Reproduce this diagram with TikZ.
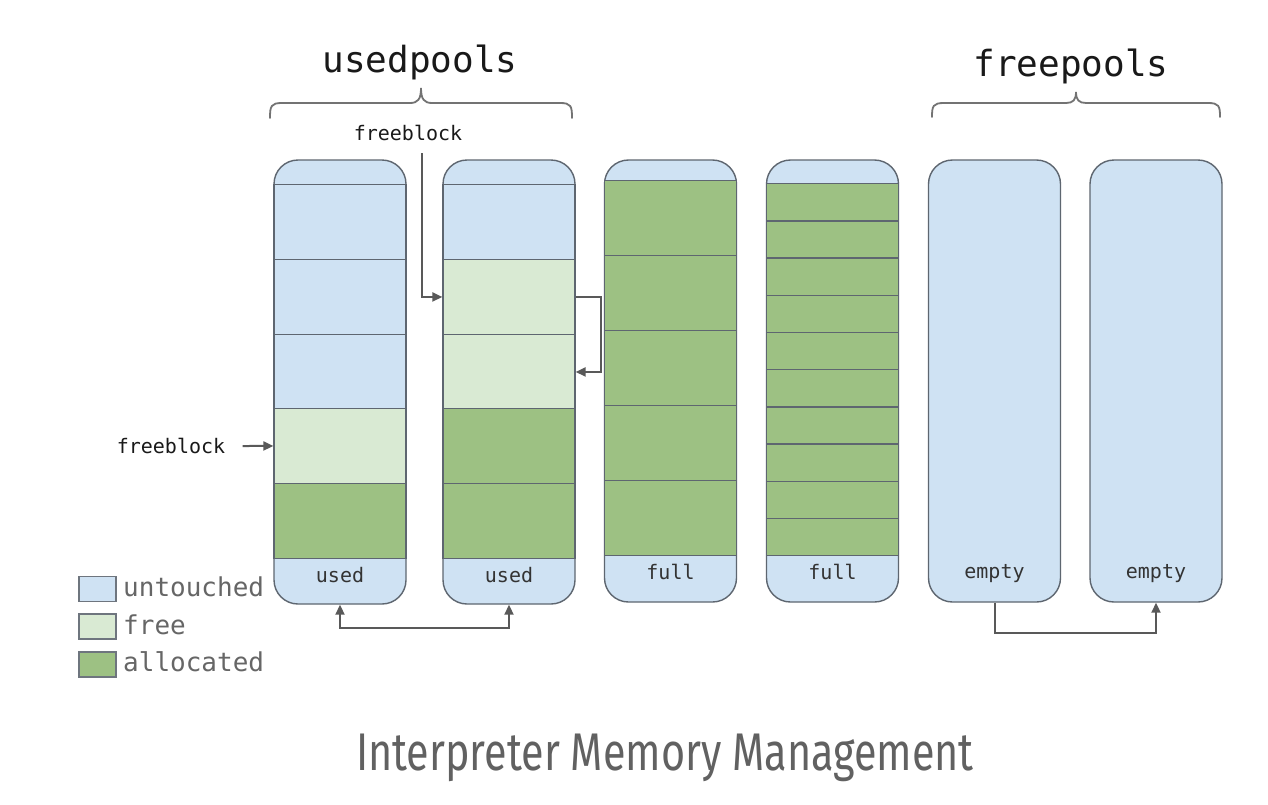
\documentclass[tikz,border=0pt]{standalone}
\usepackage{fontspec}
\setmonofont{DejaVu Sans Mono}
\newfontfamily\titlefont[FakeStretch=0.78]{Fira Sans}
\usetikzlibrary{arrows.meta}
\definecolor{untouched}{HTML}{CFE2F3}
\definecolor{freec}{HTML}{D9EAD3}
\definecolor{alloc}{HTML}{9DC183}
\definecolor{edge}{HTML}{5E6670}
\definecolor{arrowc}{HTML}{595959}
\definecolor{legtext}{HTML}{666666}
\definecolor{captext}{HTML}{333333}
\tikzset{
  pool/.style={draw=edge, line width=1.4pt, fill=untouched, rounded corners=24pt,
    minimum width=132pt, inner sep=0pt},
  blk/.style={draw=edge, line width=1.3pt, minimum width=132pt, inner sep=0pt, anchor=north},
  captxt/.style={font=\ttfamily\fontsize{20}{20}\selectfont, text=captext},
  lbl/.style={font=\ttfamily\fontsize{20}{20}\selectfont, text=black!90},
  head/.style={font=\ttfamily\fontsize{36}{36}\selectfont, text=black!90},
  legbox/.style={draw=edge!90, line width=1.3pt, minimum width=37pt, minimum height=25pt, inner sep=0pt},
  legtxt/.style={font=\ttfamily\fontsize{26}{26}\selectfont, text=legtext, anchor=west, inner sep=0pt},
  arr/.style={draw=arrowc, line width=2pt, -{Triangle[length=10pt,width=9pt]}},
  brace/.style={draw=black!55, line width=1.8pt, line cap=round}
}
\begin{document}
\begin{tikzpicture}[x=1pt,y=-1pt]
\useasboundingbox (0,0) rectangle (1268,804);
\fill[white] (0,0) rectangle (1268,804);

% pools
\node[pool, minimum height=444pt] (p1) at (340,382) {};
\node[pool, minimum height=444pt] (p2) at (509,382) {};
\node[pool, minimum height=442pt] (p3) at (670.5,381) {};
\node[pool, minimum height=442pt] (p4) at (832.5,381) {};
\node[pool, minimum height=442pt] (p5) at (994.5,381) {};
\node[pool, minimum height=442pt] (p6) at (1156,381) {};

% pool 1 blocks
\foreach \k/\c/\t in {1/untouched/184,2/untouched/259,3/untouched/334,4/freec/408,5/alloc/483}{
  \node[blk, fill=\c, minimum height=74.6pt] (b1-\k) at (340,\t) {};
}
% pool 2 blocks
\foreach \k/\c/\t in {1/untouched/184,2/freec/259,3/freec/334,4/alloc/408,5/alloc/483}{
  \node[blk, fill=\c, minimum height=74.6pt] (b2-\k) at (509,\t) {};
}
% pool 3 blocks
\foreach \k/\t in {1/180,2/255,3/330,4/405,5/480}{
  \node[blk, fill=alloc, minimum height=75pt] (b3-\k) at (670.5,\t) {};
}
% pool 4 blocks
\foreach \k in {0,...,9}{
  \node[blk, fill=alloc, minimum height=37.2pt] (b4-\k) at (832.5,{183+37.2*\k}) {};
}

% cap labels
\node[captxt] (t1) at (340,575) {used};
\node[captxt] (t2) at (509,575) {used};
\node[captxt] (t3) at (670.5,572) {full};
\node[captxt] (t4) at (832.5,572) {full};
\node[captxt] (t5) at (994.5,574) {empty};
\node[captxt] (t6) at (1156,574) {empty};

% headings and braces
\node[head] (uh) at (420,62) {usedpools};
\node[head] (fh) at (1071,66) {freepools};
\draw[brace] (270,118) .. controls (270,106) and (271,103) .. (282,103)
  -- (410,103) .. controls (418,103) and (421,99) .. (421,88)
  .. controls (421,99) and (424,103) .. (432,103)
  -- (560,103) .. controls (571,103) and (572,106) .. (572,118);
\draw[brace] (932,117) .. controls (932,106) and (933,103) .. (944,103)
  -- (1066,103) .. controls (1073,103) and (1076,100) .. (1076,92)
  .. controls (1076,100) and (1079,103) .. (1086,103)
  -- (1208,103) .. controls (1219,103) and (1220,106) .. (1220,117);

% freeblock labels and arrows
\node[lbl] (fbtop) at (408,133) {freeblock};
\coordinate (fbstart) at (422,153);
\draw[arr] (fbstart) |- (b2-2.west);
\draw[arr] (b2-2.east) -- ++(25,0) |- (b2-3.east);
\node[lbl] (fbleft) at (171,446) {freeblock};
\draw[arr] ([xshift=14pt]fbleft.east) -- (b1-4.west);

% pool links
\draw[arr, {Triangle[length=10pt,width=9pt]}-{Triangle[length=10pt,width=9pt]}]
  (p1.south) -- ++(0,23) -| (p2.south);
\draw[arr] (p5.south) -- ++(0,30) -| (p6.south);

% legend
\node[legbox, fill=untouched] (l1) at (97.5,589) {};
\node[legbox, fill=freec] (l2) at (97.5,626.5) {};
\node[legbox, fill=alloc] (l3) at (97.5,664.5) {};
\node[legtxt] (lt1) at (123,587) {untouched};
\node[legtxt] (lt2) at (123,625) {free};
\node[legtxt] (lt3) at (123,662) {allocated};

% title
\node[font=\titlefont\fontsize{53}{53}\selectfont, text=black!62, anchor=base] (title) at (665,770) {Interpreter Memory Management};
\end{tikzpicture}
\end{document}
